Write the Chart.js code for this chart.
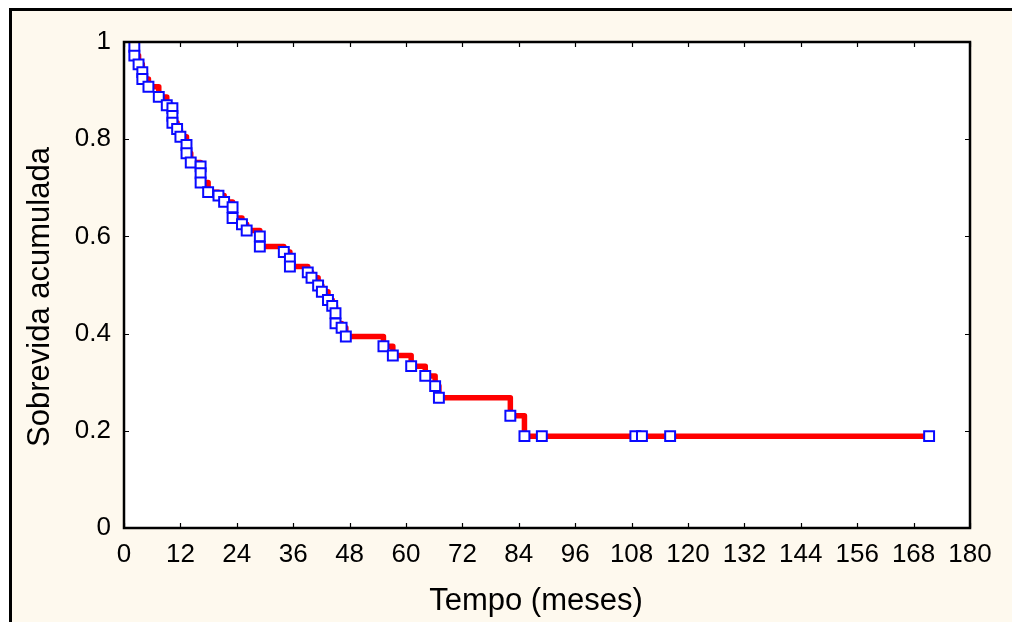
<!DOCTYPE html>
<html>
<head>
<meta charset="utf-8">
<style>
  html, body { margin: 0; padding: 0; background: #ffffff; width: 1012px; height: 622px; overflow: hidden; }
  #frame { position: absolute; left: 9px; top: 8px; right: 0; bottom: 0; background: #FEF9EE;
           border-left: 3px solid #000; border-top: 3px solid #000; }
  #wrap { position: absolute; left: 0; top: 0; width: 1012px; height: 622px; }
</style>
<script src="https://cdn.jsdelivr.net/npm/chart.js@4.4.0/dist/chart.umd.min.js"></script>
</head>
<body>
<div id="frame"></div>
<div id="wrap"><canvas id="km" width="1012" height="622"></canvas></div>
<script>
// Kaplan-Meier estimate: time of each observation (months) and cumulative survival after it
const months = [
  2.2, 2.2, 3.1, 3.9, 3.9, 5.2, 7.4, 9.1, 10.3, 10.3, 10.3, 11.3, 12.0, 13.3, 13.3, 14.2,
  16.3, 16.3, 16.3, 17.9, 20.1, 21.3, 23.1, 23.1, 25.1, 26.1, 28.9, 28.9, 34.0, 35.3, 35.3,
  39.1, 39.9, 41.3, 42.1, 43.4, 44.3, 45.0, 45.0, 46.3, 47.2, 55.2, 57.2, 61.1, 64.1, 66.2,
  67.0, 82.2, 85.2, 88.9, 108.8, 110.2, 116.2, 171.3
];
const survival = [
  0.990, 0.972, 0.954, 0.938, 0.924, 0.908, 0.887, 0.870, 0.864, 0.848, 0.834, 0.821, 0.805, 0.788, 0.771, 0.752,
  0.744, 0.730, 0.711, 0.691, 0.684, 0.671, 0.660, 0.638, 0.625, 0.612, 0.600, 0.579, 0.568, 0.554, 0.538,
  0.526, 0.515, 0.499, 0.486, 0.469, 0.457, 0.442, 0.421, 0.412, 0.394, 0.374, 0.355, 0.333, 0.313, 0.292,
  0.268, 0.231, 0.189, 0.189, 0.189, 0.189, 0.189, 0.189
];
const xTickValues = [0, 12, 24, 36, 48, 60, 72, 84, 96, 108, 120, 132, 144, 156, 168, 180];
const yTickValues = [0, 0.2, 0.4, 0.6, 0.8, 1];
const xTitle = 'Tempo (meses)';
const yTitle = 'Sobrevida acumulada';

const FONT = '"Liberation Sans", Arial, sans-serif';
const points = months.map((m, i) => ({ x: m, y: survival[i] }));

// white plot background, frame, inward ticks on all four sides, axis titles
const framePlugin = {
  id: 'statFrame',
  beforeDraw(chart) {
    const { ctx, chartArea: a } = chart;
    ctx.save();
    ctx.fillStyle = '#ffffff';
    ctx.fillRect(a.left, a.top, a.right - a.left, a.bottom - a.top);
    ctx.restore();
  },
  afterDraw(chart) {
    const { ctx, chartArea: a, scales } = chart;
    ctx.save();
    ctx.strokeStyle = '#000';
    ctx.lineWidth = 1.2;
    const len = 5;
    ctx.beginPath();
    scales.x.ticks.forEach(t => {
      const px = Math.round(scales.x.getPixelForValue(t.value)) + 0.5;
      ctx.moveTo(px, a.bottom); ctx.lineTo(px, a.bottom - len);
      ctx.moveTo(px, a.top); ctx.lineTo(px, a.top + len);
    });
    scales.y.ticks.forEach(t => {
      const py = Math.round(scales.y.getPixelForValue(t.value)) + 0.5;
      ctx.moveTo(a.left, py); ctx.lineTo(a.left + len, py);
      ctx.moveTo(a.right, py); ctx.lineTo(a.right - len, py);
    });
    ctx.stroke();
    ctx.lineWidth = 2.5;
    ctx.strokeRect(a.left, a.top, a.right - a.left, a.bottom - a.top);

    ctx.fillStyle = '#000';
    ctx.font = '31px ' + FONT;
    ctx.textAlign = 'center';
    ctx.textBaseline = 'middle';
    ctx.fillText(xTitle, (a.left + a.right) / 2 - 11, 601);
    ctx.translate(40, (a.top + a.bottom) / 2 + 12);
    ctx.rotate(-Math.PI / 2);
    ctx.fillText(yTitle, 0, 0);
    ctx.restore();
  }
};

new Chart(document.getElementById('km'), {
  type: 'scatter',
  data: {
    datasets: [
      {
        label: 'curva',
        data: points,
        showLine: true,
        stepped: true,
        borderColor: '#ff0000',
        borderWidth: 5.5,
        borderJoinStyle: 'round',
        borderCapStyle: 'round',
        pointRadius: 0,
        pointHoverRadius: 0,
        order: 2
      },
      {
        label: 'observações',
        data: points,
        showLine: false,
        pointStyle: 'rect',
        pointRadius: 7,
        pointBorderWidth: 2,
        pointBorderColor: '#0a0aff',
        pointBackgroundColor: '#ffffff',
        order: 1
      }
    ]
  },
  options: {
    responsive: false,
    animation: false,
    clip: false,
    layout: { padding: { left: 0, top: 42, right: 42, bottom: 0 } },
    plugins: { legend: { display: false }, tooltip: { enabled: false } },
    scales: {
      x: {
        type: 'linear',
        min: 0, max: 180,
        afterBuildTicks: s => { s.ticks = xTickValues.map(v => ({ value: v })); },
        afterFit: s => { s.height = 94; },
        grid: { display: false },
        border: { display: false },
        ticks: { color: '#000', font: { family: FONT, size: 26 }, padding: 3, maxRotation: 0, autoSkip: false }
      },
      y: {
        type: 'linear',
        min: 0, max: 1,
        afterBuildTicks: s => { s.ticks = yTickValues.map(v => ({ value: v })); },
        afterFit: s => { s.width = 124; },
        grid: { display: false },
        border: { display: false },
        ticks: {
          color: '#000', font: { family: FONT, size: 26 }, padding: 5,
          callback: v => String(+v.toFixed(1))
        }
      }
    }
  },
  plugins: [framePlugin]
});
</script>
</body>
</html>
